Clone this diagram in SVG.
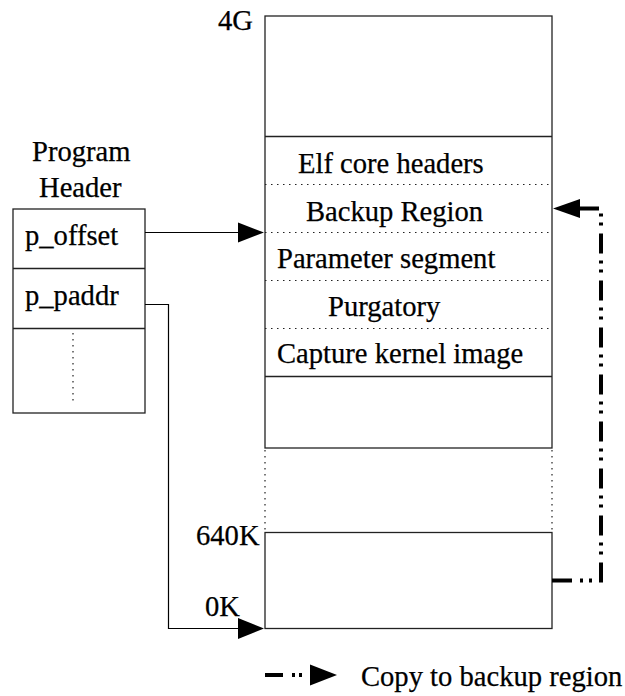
<svg xmlns="http://www.w3.org/2000/svg" width="625" height="696" viewBox="0 0 625 696">
<style>
text{font-family:"Liberation Serif","Times New Roman",serif;font-size:28.6px;fill:#000;stroke:#000;stroke-width:0.25}
.box{fill:#fff;stroke:#222;stroke-width:1.3}
.sep{stroke:#222;stroke-width:1.3;fill:none}
.dot{stroke:#222;stroke-width:1.2;stroke-dasharray:1.5 4.5;fill:none}
.wire{stroke:#000;stroke-width:1.2;fill:none}
.dd{stroke:#000;stroke-width:4;fill:none;stroke-dasharray:20 8 3 6 3 7}
</style>
<rect width="625" height="696" fill="#fff"/>
<g id="memory-upper">
<rect class="box" x="265" y="16" width="287" height="432"/>
<line class="sep" x1="265" y1="136.5" x2="552" y2="136.5"/>
<line class="dot" x1="265" y1="184.5" x2="552" y2="184.5"/>
<line class="dot" x1="265" y1="232.5" x2="552" y2="232.5"/>
<line class="dot" x1="265" y1="280.5" x2="552" y2="280.5"/>
<line class="dot" x1="265" y1="328.5" x2="552" y2="328.5"/>
<line class="sep" x1="265" y1="376.5" x2="552" y2="376.5"/>
<text x="218" y="30">4G</text>
<text x="298" y="173">Elf core headers</text>
<text x="306" y="221">Backup Region</text>
<text x="277" y="268">Parameter segment</text>
<text x="328" y="316">Purgatory</text>
<text x="277" y="363">Capture kernel image</text>
</g>
<g id="memory-gap">
<line class="dot" x1="265" y1="450" x2="265" y2="532"/>
<line class="dot" x1="552" y1="450" x2="552" y2="532"/>
</g>
<g id="memory-lower">
<rect class="box" x="265" y="532.5" width="287" height="96"/>
<text x="196" y="545">640K</text>
<text x="205" y="616">0K</text>
</g>
<g id="program-header">
<text x="32" y="161">Program</text>
<text x="39" y="197">Header</text>
<rect class="box" x="13" y="209" width="132" height="204"/>
<line class="sep" x1="13" y1="268.5" x2="145" y2="268.5"/>
<line class="sep" x1="13" y1="328.5" x2="145" y2="328.5"/>
<text x="25" y="245">p_offset</text>
<text x="25" y="305">p_paddr</text>
<line class="dot" x1="73" y1="333" x2="73" y2="402"/>
</g>
<g id="connectors">
<line class="wire" x1="145" y1="232.5" x2="240" y2="232.5"/>
<polygon points="238,222.5 264,232.5 238,242.5" fill="#000"/>
<polyline class="wire" points="145,304.5 168.5,304.5 168.5,628.5 240,628.5"/>
<polygon points="238,618 264,628.5 238,639" fill="#000"/>
<path class="dd" d="M552,580.5 H601 V208.5 H578"/>
<polygon points="553,208.5 580,199 580,218" fill="#000"/>
</g>
<g id="legend">
<path class="dd" d="M265,675 H310" style="stroke-dasharray:18 9 3 4 3 8"/>
<polygon points="310,664.5 337,675 310,685.5" fill="#000"/>
<text x="361" y="686">Copy to backup region</text>
</g>
</svg>
